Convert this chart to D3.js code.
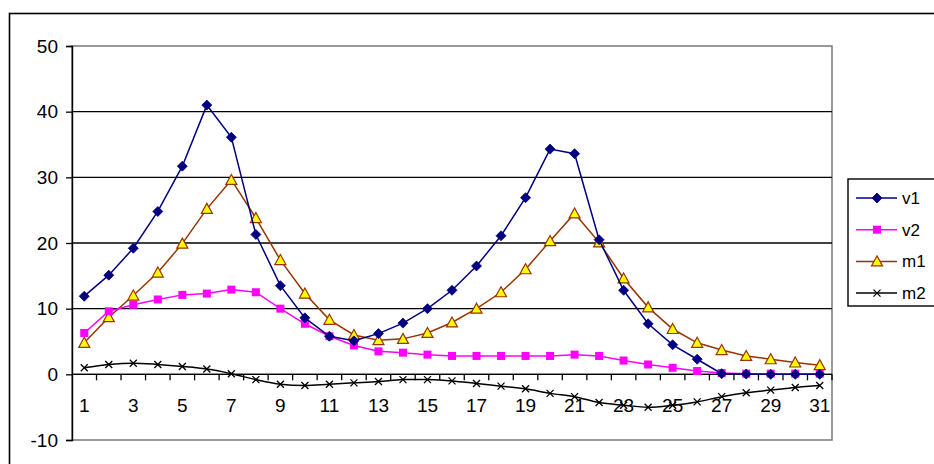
<!DOCTYPE html>
<html><head><meta charset="utf-8">
<script src="https://cdn.jsdelivr.net/npm/d3@7"></script>
<style>body{margin:0;background:#fff}svg{display:block}</style>
</head><body>
<svg id="c" width="934" height="464"></svg>
<script>
const categories = d3.range(1, 32);
const tickLabels = [1,3,5,7,9,11,13,15,17,19,21,23,25,27,29,31];
const yTicks = [-10,0,10,20,30,40,50];
const v1 = [11.9,15.1,19.2,24.8,31.7,41.0,36.1,21.3,13.5,8.6,5.8,5.1,6.2,7.8,10.0,12.8,16.5,21.1,26.9,34.3,33.6,20.5,12.8,7.7,4.5,2.3,0.1,0.05,0,0,0];
const v2 = [6.3,9.6,10.6,11.4,12.1,12.3,12.9,12.5,10.0,7.7,5.8,4.4,3.5,3.3,3.0,2.8,2.8,2.8,2.8,2.8,3.0,2.8,2.1,1.5,1.0,0.5,0.2,0.1,0.1,0.1,0.1];
const m1 = [4.8,8.7,12.0,15.5,19.9,25.2,29.6,23.8,17.4,12.3,8.3,6.0,5.2,5.4,6.3,7.9,10.0,12.5,16.0,20.3,24.5,20.1,14.6,10.2,6.9,4.8,3.7,2.8,2.3,1.8,1.4];
const m2 = [1.0,1.5,1.7,1.5,1.2,0.8,0.1,-0.8,-1.5,-1.7,-1.5,-1.3,-1.1,-0.8,-0.8,-1.0,-1.4,-1.8,-2.2,-2.9,-3.4,-4.3,-4.7,-5.0,-4.7,-4.2,-3.4,-2.8,-2.4,-2.0,-1.7];
const seriesNames = ["v1","v2","m1","m2"];

const svg = d3.select("#c");
const L = 72, R = 832, T = 46, B = 440;
const x = d3.scaleBand().domain(categories).range([L, R]);
const y = d3.scaleLinear().domain([-10, 50]).range([B, T]);
const font = "'Liberation Sans', Arial, sans-serif";

// outer chart border
svg.append("rect").attr("x", 9.5).attr("y", 13.5).attr("width", 940).attr("height", 470)
  .attr("fill", "none").attr("stroke", "#000").attr("stroke-width", 1.6);

// plot area border
svg.append("rect").attr("x", L).attr("y", T).attr("width", R - L).attr("height", B - T)
  .attr("fill", "none").attr("stroke", "#808080").attr("stroke-width", 1.6);

// gridlines
svg.append("g").selectAll("line").data(yTicks.filter(d => d > -10 && d < 50)).join("line")
  .attr("x1", L).attr("x2", R).attr("y1", d => y(d)).attr("y2", d => y(d))
  .attr("stroke", "#000").attr("stroke-width", 1.3);

// y axis
const yAxis = svg.append("g").attr("transform", `translate(${L},0)`)
  .call(d3.axisLeft(y).tickValues(yTicks).tickSize(6).tickPadding(8).tickFormat(d => String(d)));
yAxis.select(".domain").attr("stroke", "#000").attr("stroke-width", 1.4);
yAxis.selectAll(".tick line").attr("stroke", "#000").attr("stroke-width", 1.3);
yAxis.selectAll("text").attr("font-family", font).attr("font-size", 19).attr("fill", "#000");

// x axis at y=0
const xg = svg.append("g").attr("transform", `translate(0,${y(0)})`);
xg.append("line").attr("x1", L).attr("x2", R).attr("stroke", "#000").attr("stroke-width", 1.4);
const bounds = categories.slice(1).map(c => x(c));
bounds.push(R);
xg.selectAll("line.tk").data(bounds).join("line").attr("class", "tk")
  .attr("x1", d => d).attr("x2", d => d).attr("y1", 0).attr("y2", 6)
  .attr("stroke", "#000").attr("stroke-width", 1.3);
xg.selectAll("text").data(tickLabels).join("text")
  .attr("x", d => x(d) + x.bandwidth() / 2).attr("y", 37.5)
  .attr("text-anchor", "middle").attr("font-family", font).attr("font-size", 19).attr("fill", "#000")
  .text(d => d);

const cx = (d, i) => x(categories[i]) + x.bandwidth() / 2;

function drawSeries(data, color, curve) {
  const line = d3.line().x((d, i) => cx(d, i)).y(d => y(d)).curve(curve || d3.curveLinear);
  svg.append("path").datum(data).attr("d", line).attr("fill", "none")
    .attr("stroke", color).attr("stroke-width", 1.5);
}
const markers = {
  v1: (g) => g.append("path").attr("d", "M0,-5L5,0L0,5L-5,0Z").attr("fill", "#000080").attr("stroke", "#000080").attr("stroke-width", 0.8),
  v2: (g) => g.append("rect").attr("x", -4).attr("y", -4).attr("width", 8).attr("height", 8).attr("fill", "#FF00FF"),
  m1: (g) => g.append("path").attr("d", "M0,-5.5L5.5,4.5L-5.5,4.5Z").attr("fill", "#FFFF00").attr("stroke", "#993300").attr("stroke-width", 1.2),
  m2: (g) => g.append("path").attr("d", "M-3.5,-3.5L3.5,3.5M-3.5,3.5L3.5,-3.5").attr("stroke", "#000").attr("stroke-width", 1.3)
};
function drawMarkers(data, name) {
  svg.append("g").selectAll("g").data(data).join("g")
    .attr("transform", (d, i) => `translate(${cx(d, i)},${y(d)})`)
    .each(function () { markers[name](d3.select(this)); });
}
const colors = { v1: "#000080", v2: "#FF00FF", m1: "#993300", m2: "#000" };

drawSeries(m2, colors.m2, d3.curveCatmullRom);
drawMarkers(m2, "m2");
drawSeries(m1, colors.m1);
drawMarkers(m1, "m1");
drawSeries(v2, colors.v2);
drawMarkers(v2, "v2");
drawSeries(v1, colors.v1);
drawMarkers(v1, "v1");

// legend
const lg = svg.append("g");
lg.append("rect").attr("x", 848).attr("y", 179).attr("width", 100).attr("height", 127)
  .attr("fill", "#fff").attr("stroke", "#000").attr("stroke-width", 1.4);
seriesNames.forEach((n, i) => {
  const yy = 198 + i * 31.7;
  lg.append("line").attr("x1", 856).attr("x2", 897).attr("y1", yy).attr("y2", yy)
    .attr("stroke", colors[n]).attr("stroke-width", 1.5);
  markers[n](lg.append("g").attr("transform", `translate(877,${yy})`));
  lg.append("text").attr("x", 902).attr("y", yy + 6).attr("font-family", font).attr("font-size", 17)
    .attr("fill", "#000").text(n);
});
</script>
</body></html>
